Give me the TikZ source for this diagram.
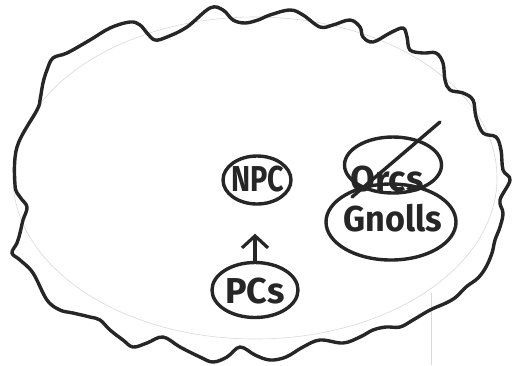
\documentclass[tikz,border=0pt]{standalone}
\usepackage{fontspec}
\setmainfont{Fira Sans}
\usetikzlibrary{shapes.geometric,arrows.meta}
\tikzset{
  pen/.style={draw=black!85, line width=3.4pt, line cap=round, line join=round},
  blob/.style={pen, line width=3.4pt},
  pencil/.style={draw=black!15, line width=0.6pt},
  ring/.style={pen, ellipse, inner sep=0pt},
  word/.style={text=black!85, font=\fontsize{36}{36}\selectfont\bfseries, inner sep=0pt},
  arrowpen/.style={pen, -{Straight Barb[length=12pt,width=26pt,line width=3.2pt]}}
}
\begin{document}
\begin{tikzpicture}[x=1pt,y=-1pt]
\useasboundingbox[fill=white] (0,0) rectangle (513,365);
% faint pencil guides
\draw[pencil] (255,178) ellipse [x radius=242, y radius=161];
\coordinate (g1) at (431,293);
\coordinate (g2) at (431,365);
\draw[pencil] (g1) -- (g2);
% wavy outer boundary
\draw[blob] plot[smooth cycle, tension=0.6] coordinates {
(15,185) (17,147) (37,110) (40,100) (43,83) (47,70) (53,58) (67,53) (90,40) (110,28)
(130,22) (140,25) (147,33) (155,40) (167,37) (187,27) (210,8) (223,10) (233,20) (245,23)
(258,20) (270,15) (290,10) (303,15) (320,27) (333,25) (350,20) (360,27) (363,37) (373,42)
(390,33) (403,28) (407,37) (410,50) (423,53) (436,53) (443,63) (445,80) (450,90) (463,93)
(473,100) (476,117) (483,133) (496,137) (501,150) (503,170) (510,180) (500,200) (503,213)
(500,227) (495,240) (492,253) (486,267) (478,278) (466,287) (456,297) (446,303) (430,310)
(413,320) (400,327) (386,327) (373,330) (360,337) (343,343) (320,340) (303,347) (286,357)
(270,360) (255,355) (240,347) (227,357) (213,362) (200,357) (180,347) (163,337) (147,343)
(133,347) (123,340) (110,330) (100,320) (90,317) (73,313) (60,310) (47,300) (33,273)
(20,260) (12,253) (17,243) (20,233) (23,220) (27,207) (20,197)};
% nodes
\node[ring, minimum width=68pt, minimum height=48pt] (npc) at (257,180) {};
\node[word] (npctext) at (258,179) {\scalebox{0.8}[1]{NPC}};
\node[ring, minimum width=97pt, minimum height=56pt] (orcsring) at (393,165) {};
\node[word] (orcs) at (387,179) {Orcs};
\node[ring, minimum width=130pt, minimum height=76pt] (gnolls) at (391,222) {};
\node[word] (gnollstext) at (393,218) {\scalebox{0.95}[1]{Gnolls}};
\node[ring, minimum width=86pt, minimum height=55pt] (pcs) at (255,290) {};
\node[word] (pcstext) at (255,291) {PCs};
% strike-through of Orcs
\coordinate (s1) at (440,122);
\coordinate (s2) at (352,197);
\draw[pen] (s1) -- (s2);
% arrow from PCs towards NPC
\draw[arrowpen, shorten >=28pt] (pcs.north) -- (pcs.north |- npc.south);
\end{tikzpicture}
\end{document}
